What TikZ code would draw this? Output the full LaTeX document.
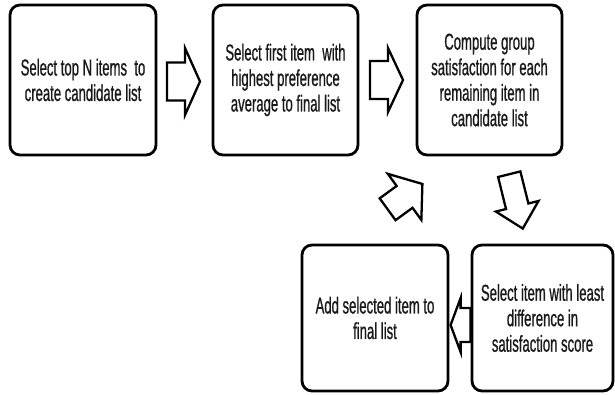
\documentclass[tikz,border=0pt]{standalone}
\usepackage{fontspec}
\newfontfamily\condfont[FakeStretch=0.57, FakeBold=0.8]{Liberation Sans}
\usetikzlibrary{calc}
\tikzset{
  box/.style={draw=black, line width=2.8pt, rounded corners=10pt, align=center,
    inner sep=2pt, font=\condfont\fontsize{23}{25.5}\selectfont, text=black!90},
  barrow/.style={draw=black, line width=2.3pt, fill=white, line join=miter}
}
\newcommand\blkarrow[6]{%
  \begin{scope}[shift={(#1)}, rotate=#2]
    \draw[barrow] ({-#3/2},{-#5}) -- ({#3/2-#4},{-#5}) -- ({#3/2-#4},{-#6}) -- ({#3/2},0)
      -- ({#3/2-#4},{#6}) -- ({#3/2-#4},{#5}) -- ({-#3/2},{#5}) -- cycle;
  \end{scope}}
\begin{document}
\begin{tikzpicture}[x=1pt, y=1pt]
  \useasboundingbox (0,0) rectangle (615,-394);
  \node[box, minimum width=146pt, minimum height=150pt] (b1) at (83,-80)
    {Select top N items \ to\\create candidate list};
  \node[box, minimum width=145pt, minimum height=150pt] (b2) at (285.5,-80)
    {Select first item \ with\\highest preference\\average to final list};
  \node[box, minimum width=145pt, minimum height=150pt] (b3) at (489.5,-80)
    {Compute group\\satisfaction for each\\remaining item in\\candidate list};
  \node[box, minimum width=146pt, minimum height=146pt] (b4) at (375,-318)
    {Add selected item to\\final list};
  \node[box, minimum width=141pt, minimum height=146pt] (b5) at (542.5,-318)
    {Select item with least\\difference in\\satisfaction score};

  \coordinate (a1) at ($(b1.east)!0.5!(b2.west)+(-1,-1.5)$);
  \coordinate (a2) at ($(b2.east)!0.5!(b3.west)+(-1,0)$);
  \coordinate (a3) at ($(b3.south)+(26.5,-45)$);
  \coordinate (a4) at ($(b5.west)+(-10,-7)$);
  \coordinate (a5) at ($(b4.north)+(30,47)$);

  \blkarrow{a1}{0}{33}{15}{19}{33.5}
  \blkarrow{a2}{0}{33}{15}{19}{32}
  \blkarrow{a3}{-76}{56}{23}{11.5}{22}
  \blkarrow{a4}{180}{20}{10}{17}{27}
  \blkarrow{a5}{36}{43}{22}{13.5}{28.5}
\end{tikzpicture}
\end{document}
